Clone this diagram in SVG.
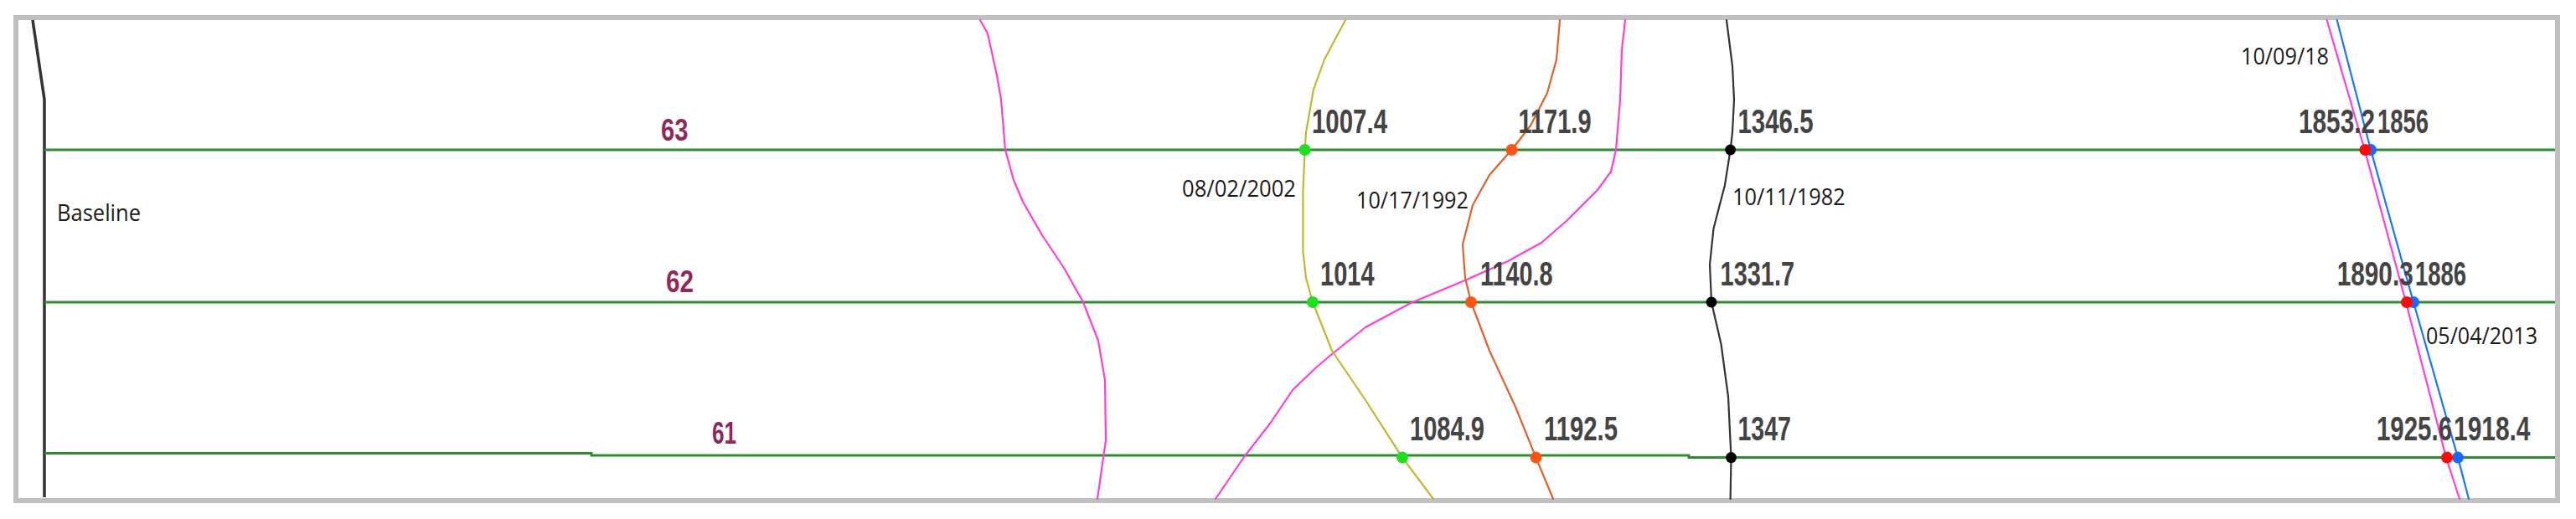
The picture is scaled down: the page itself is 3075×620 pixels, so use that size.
<svg xmlns="http://www.w3.org/2000/svg" width="3075" height="620" viewBox="0 0 3075 620">
<style>
.tr{stroke:#2e8b2e;stroke-width:3;fill:none}
.sh{fill:none;stroke-width:2.2;stroke-linejoin:round;stroke-linecap:round}
.num{font-family:"Liberation Sans Narrow","Liberation Sans",Arial,sans-serif;font-size:41px;font-weight:bold;fill:#444}
.date{font-family:"Open Sans","Liberation Sans",sans-serif;font-size:27px;fill:#1a1a1a}
.row{font-family:"Liberation Sans Narrow","Liberation Sans",Arial,sans-serif;font-size:37px;font-weight:bold;fill:#8e2a5a}
</style>
<rect width="3075" height="620" fill="#ffffff"/>
<g id="frame"><rect x="19" y="21" width="3034" height="577" fill="none" stroke="#c0c0c0" stroke-width="6"/></g>
<g id="baseline">
<path d="M39,24 L53,119 L53,594" fill="none" stroke="#333" stroke-width="3.5"/>
<text x="68" y="264" class="date" font-size="26" textLength="100" lengthAdjust="spacingAndGlyphs">Baseline</text>
</g>
<g id="connectors">
<path class="tr" d="M53,179 H3050"/>
<path class="tr" d="M53,361 H3050"/>
<path class="tr" d="M53,541.5 H706 V544 H2016 V546.5 H3050"/>
</g>
<g id="shoreline-magenta-1"><path class="sh" stroke="#ff3fd8" d="M1170,24 L1179,40 L1190,90 L1195,119 L1200,179 L1210,215 L1221,241 L1244,281 L1270,320 L1293,361 L1311,407 L1319,454 L1320,526 L1315,561 L1310,596"/></g>
<g id="shoreline-magenta-2"><path class="sh" stroke="#ff3fd8" d="M1451,596 L1485,546 L1516,506 L1543,466 L1570,440 L1590,423 L1630,391 L1684,362 L1751,334 L1800,312 L1840,290 L1871,263 L1907,227 L1923,205 L1929,179 L1934,119 L1936,59 L1940,24"/></g>
<g id="shoreline-2002"><path class="sh" stroke="#c2b830" d="M1606,24 L1581,71 L1568,107 L1559,158 L1557.6,179 L1555.4,229 L1555.4,300 L1559,332 L1567,361 L1590,419 L1630,478 L1674,546.6 L1711,596"/></g>
<g id="shoreline-1992"><path class="sh" stroke="#e0602e" d="M1862,24 L1858,71 L1847,111 L1827,150 L1804.5,179 L1778,209 L1758,245 L1746,292 L1749,332 L1756,361 L1778,419 L1809,486 L1833.5,546.6 L1854,596"/></g>
<g id="shoreline-1982"><path class="sh" stroke="#333" stroke-width="2.6" d="M2061,24 L2068,79 L2070,119 L2068,158 L2065.6,179 L2059,221 L2045.5,273 L2041,316 L2043,361 L2054.5,411 L2063,474 L2066.5,546.6 L2065.6,596"/></g>
<g id="shoreline-2013"><path class="sh" stroke="#1a75ff" d="M2789.7,24 L2830,179 L2881,361 L2934,546.6 L2947,596"/></g>
<g id="shoreline-2018"><path class="sh" stroke="#ff3fd8" d="M2777.6,24 L2822.7,179 L2872,361 L2920,546.6 L2936,596"/></g>
<g id="points">
<circle cx="1557.6" cy="179" r="7" fill="#1ee01e"/>
<circle cx="1567" cy="361" r="7" fill="#1ee01e"/>
<circle cx="1674" cy="546.6" r="7" fill="#1ee01e"/>
<circle cx="1804.5" cy="179" r="7" fill="#ff5514"/>
<circle cx="1756" cy="361" r="7" fill="#ff5514"/>
<circle cx="1833.5" cy="546.6" r="7" fill="#ff5514"/>
<circle cx="2065.6" cy="179" r="6.5" fill="#000"/>
<circle cx="2043" cy="361" r="6.5" fill="#000"/>
<circle cx="2066.5" cy="546.6" r="6.5" fill="#000"/>
<circle cx="2830" cy="179" r="7" fill="#1a6aff"/>
<circle cx="2881" cy="361" r="7" fill="#1a6aff"/>
<circle cx="2934" cy="546.6" r="7" fill="#1a6aff"/>
<circle cx="2823.4" cy="179" r="7" fill="#ff0a0a"/>
<circle cx="2873" cy="361" r="7" fill="#ff0a0a"/>
<circle cx="2921" cy="546.6" r="7" fill="#ff0a0a"/>
</g>
<g id="row-labels">
<text class="row" x="789" y="167.7" textLength="32.4" lengthAdjust="spacingAndGlyphs">63</text>
<text class="row" x="795" y="348.5" textLength="33" lengthAdjust="spacingAndGlyphs">62</text>
<text class="row" x="850" y="530" textLength="29" lengthAdjust="spacingAndGlyphs">61</text>
</g>
<g id="date-labels">
<text class="date" x="1411" y="235" textLength="136" lengthAdjust="spacingAndGlyphs">08/02/2002</text>
<text class="date" x="1619" y="249" textLength="134" lengthAdjust="spacingAndGlyphs">10/17/1992</text>
<text class="date" x="2068" y="245" textLength="134.7" lengthAdjust="spacingAndGlyphs">10/11/1982</text>
<text class="date" x="2675" y="77.3" textLength="105" lengthAdjust="spacingAndGlyphs">10/09/18</text>
<text class="date" x="2896" y="411" textLength="133" lengthAdjust="spacingAndGlyphs">05/04/2013</text>
</g>
<g id="value-labels">
<text class="num" x="1566" y="158.5" textLength="90" lengthAdjust="spacingAndGlyphs">1007.4</text>
<text class="num" x="1812.5" y="158.5" textLength="87" lengthAdjust="spacingAndGlyphs">1171.9</text>
<text class="num" x="2074.5" y="158.5" textLength="90" lengthAdjust="spacingAndGlyphs">1346.5</text>
<text class="num" x="2744" y="158.5" textLength="91" lengthAdjust="spacingAndGlyphs">1853.2</text>
<text class="num" x="2838" y="158.5" textLength="61" lengthAdjust="spacingAndGlyphs">1856</text>
<text class="num" x="1576" y="341" textLength="64.6" lengthAdjust="spacingAndGlyphs">1014</text>
<text class="num" x="1767" y="341" textLength="86.6" lengthAdjust="spacingAndGlyphs">1140.8</text>
<text class="num" x="2053.6" y="341" textLength="88.4" lengthAdjust="spacingAndGlyphs">1331.7</text>
<text class="num" x="2789.7" y="341" textLength="91" lengthAdjust="spacingAndGlyphs">1890.3</text>
<text class="num" x="2883" y="341" textLength="61" lengthAdjust="spacingAndGlyphs">1886</text>
<text class="num" x="1683" y="526" textLength="89" lengthAdjust="spacingAndGlyphs">1084.9</text>
<text class="num" x="1843" y="526" textLength="88" lengthAdjust="spacingAndGlyphs">1192.5</text>
<text class="num" x="2074.5" y="526" textLength="63.5" lengthAdjust="spacingAndGlyphs">1347</text>
<text class="num" x="2837" y="526" textLength="90" lengthAdjust="spacingAndGlyphs">1925.6</text>
<text class="num" x="2929" y="526" textLength="91.5" lengthAdjust="spacingAndGlyphs">1918.4</text>
</g>
</svg>
